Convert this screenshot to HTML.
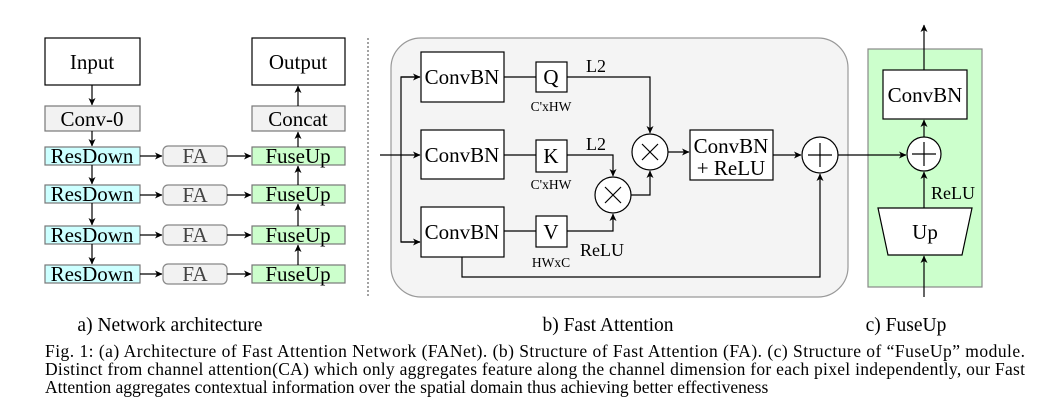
<!DOCTYPE html>
<html><head><meta charset="utf-8"><style>
body{margin:0;background:#fff}
svg{display:block;font-family:"Liberation Serif",serif}
</style></head><body>
<svg width="1040" height="407" viewBox="0 0 1040 407" xmlns="http://www.w3.org/2000/svg">
<defs><marker id="a" markerWidth="8" markerHeight="8" refX="7" refY="4" orient="auto" markerUnits="userSpaceOnUse"><path d="M0,0.5 L7.5,4 L0,7.5 L2,4 z" fill="#000"/></marker></defs>
<g stroke="#000" stroke-width="1.2" fill="none">
<rect x="45" y="38" width="95" height="47" fill="#fff"/>
<rect x="45" y="106" width="95" height="25" fill="#f2f2f2" stroke="#777"/>
<rect x="252" y="38" width="93" height="47" fill="#fff"/>
<rect x="252" y="106" width="93" height="25" fill="#f2f2f2" stroke="#777"/>
<g fill="#ccffff" stroke="#777"><rect x="45" y="147" width="95" height="18"/><rect x="45" y="185" width="95" height="18"/><rect x="45" y="226" width="95" height="18"/><rect x="45" y="265" width="95" height="18"/></g>
<g fill="#ccffcc" stroke="#777"><rect x="252" y="147" width="93" height="18"/><rect x="252" y="185" width="93" height="18"/><rect x="252" y="226" width="93" height="18"/><rect x="252" y="265" width="93" height="18"/></g>
<g fill="#f2f2f2" stroke="#888"><rect x="163" y="146" width="64" height="20" rx="5"/><rect x="163" y="185" width="64" height="20" rx="5"/><rect x="163" y="225" width="64" height="20" rx="5"/><rect x="163" y="264" width="64" height="20" rx="5"/></g>
<g marker-end="url(#a)">
<path d="M92 85V105"/><path d="M92 131V146"/><path d="M92 165V184"/><path d="M92 203V225"/><path d="M92 244V264"/>
<path d="M298 106V86"/><path d="M298 147V132"/><path d="M298 185V166"/><path d="M298 226V204"/><path d="M298 265V245"/>
<path d="M140 156H162"/><path d="M140 195H162"/><path d="M140 235H162"/><path d="M140 274H162"/>
<path d="M227 156H251"/><path d="M227 195H251"/><path d="M227 235H251"/><path d="M227 274H251"/>
</g>
<path d="M368 38V298" stroke="#666" stroke-dasharray="2,2"/>
<rect x="391" y="38" width="457" height="259" rx="30" fill="#f4f4f4" stroke="#999"/>
<rect x="421" y="52" width="83" height="50" fill="#fff"/>
<rect x="421" y="130" width="83" height="49" fill="#fff"/>
<rect x="421" y="207" width="83" height="50" fill="#fff"/>
<rect x="536" y="62" width="31" height="30" fill="#fff"/>
<rect x="536" y="140" width="31" height="32" fill="#fff"/>
<rect x="536" y="216" width="31" height="31" fill="#fff"/>
<rect x="690" y="130" width="83" height="50" fill="#fff"/>
<path d="M504 77H536M504 155H536M504 231H536"/>
<path d="M380 155H420" marker-end="url(#a)"/>
<path d="M420 77H401V242H420" />
<path d="M401 77H420" marker-end="url(#a)"/><path d="M401 242H420" marker-end="url(#a)"/>
<path d="M567 77H650V133" marker-end="url(#a)"/>
<path d="M567 155H613V176" marker-end="url(#a)"/>
<path d="M567 231H613V214" marker-end="url(#a)"/>
<path d="M631 195H650V171" marker-end="url(#a)"/>
<path d="M668 152H689" marker-end="url(#a)"/>
<path d="M773 155H801" marker-end="url(#a)"/>
<path d="M462 257V277H820V174" marker-end="url(#a)"/>
<circle cx="650" cy="152" r="18" fill="#fff"/>
<circle cx="613" cy="195" r="18" fill="#fff"/>
<circle cx="820" cy="155" r="18" fill="#fff"/>
<path d="M642 144l16 16M658 144l-16 16M605 187l16 16M621 187l-16 16M808 155h24M820 143v24"/>
<rect x="868" y="49" width="114" height="238" fill="#ccffcc" stroke="#888"/>
<path d="M838 155H906" marker-end="url(#a)"/>
<rect x="883" y="70" width="84" height="49" fill="#fff"/>
<circle cx="924" cy="154" r="17" fill="#fff"/>
<path d="M912 154h24M924 142v24"/>
<path d="M924 137V120" marker-end="url(#a)"/>
<path d="M924 70V25" marker-end="url(#a)"/>
<path d="M924 208V172" marker-end="url(#a)"/>
<path d="M878 208H972L962 255H888Z" fill="#fff"/>
<path d="M924 297V256" marker-end="url(#a)"/>
</g>
<g font-size="21" text-anchor="middle" fill="#000">
<text x="92" y="69">Input</text><text x="298" y="69">Output</text>
<text x="92" y="126">Conv-0</text><text x="298" y="126">Concat</text>
<text x="92" y="163">ResDown</text><text x="92" y="201">ResDown</text><text x="92" y="242">ResDown</text><text x="92" y="281">ResDown</text>
<text x="298" y="163">FuseUp</text><text x="298" y="201">FuseUp</text><text x="298" y="242">FuseUp</text><text x="298" y="281">FuseUp</text>
<text x="195" y="163" fill="#444">FA</text><text x="195" y="202" fill="#444">FA</text><text x="195" y="242" fill="#444">FA</text><text x="195" y="281" fill="#444">FA</text>
<text x="462" y="84">ConvBN</text><text x="462" y="162">ConvBN</text><text x="462" y="239">ConvBN</text>
<text x="551" y="84">Q</text><text x="551" y="163">K</text><text x="551" y="239">V</text>
<text x="731" y="153">ConvBN</text><text x="731" y="175">+ ReLU</text>
<text x="925" y="102">ConvBN</text><text x="925" y="239">Up</text>
<text x="596" y="72" font-size="18">L2</text><text x="596" y="150" font-size="18">L2</text>
<text x="602" y="256" font-size="18">ReLU</text><text x="953" y="199" font-size="18">ReLU</text>
<text x="170" y="331" font-size="19.5">a) Network architecture</text>
<text x="608" y="331" font-size="19.5">b) Fast Attention</text>
<text x="906" y="331" font-size="19.5">c) FuseUp</text>
</g>
<g font-size="13.5" text-anchor="middle"><text x="551" y="111">C'xHW</text><text x="551" y="189">C'xHW</text><text x="551" y="267">HWxC</text></g>
<g font-size="17.5">
<text x="45" y="357" textLength="980" lengthAdjust="spacing">Fig. 1: (a) Architecture of Fast Attention Network (FANet). (b) Structure of Fast Attention (FA). (c) Structure of “FuseUp” module.</text>
<text x="45" y="375" textLength="980" lengthAdjust="spacing">Distinct from channel attention(CA) which only aggregates feature along the channel dimension for each pixel independently, our Fast</text>
<text x="45" y="393">Attention aggregates contextual information over the spatial domain thus achieving better effectiveness</text>
</g>
</svg>
</body></html>
